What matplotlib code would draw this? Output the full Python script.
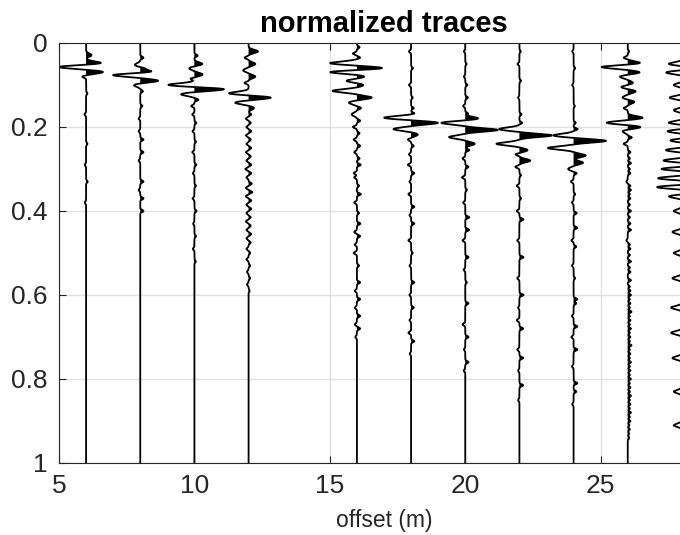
import numpy as np
import matplotlib.pyplot as plt

# trace offsets (m) and time (s) after which each trace is flat
offsets = [6, 8, 10, 12, 16, 18, 20, 22, 24, 26, 28]
end_times = [0.40, 0.41, 0.55, 0.60, 0.71, 0.76, 0.80, 0.88, 0.89, 0.95, 0.96]

# lobes: (time s, normalized amplitude in offset units)
lobes_6 = [(0.029, 0.2), (0.048, 0.6), (0.057, -1.05), (0.069, 0.63), (0.08, -0.15),
           (0.12, 0.05), (0.17, -0.06), (0.24, 0.05), (0.29, -0.05), (0.33, 0.06), (0.38, -0.05)]
lobes_8 = [(0.035, 0.12), (0.052, -0.2), (0.06, 0.15), (0.069, 0.55), (0.076, -1.1), (0.09, 0.67),
           (0.10, -0.25), (0.115, 0.1), (0.15, 0.08), (0.18, -0.06), (0.21, -0.06), (0.23, 0.12),
           (0.26, 0.12), (0.28, -0.06), (0.33, 0.12), (0.35, -0.06), (0.37, 0.12), (0.40, 0.12)]
lobes_10 = [(0.03, 0.12), (0.05, 0.3), (0.06, -0.2), (0.075, 0.3), (0.085, -0.15), (0.10, -1.0),
            (0.11, 1.13), (0.122, -0.5), (0.135, 0.15), (0.15, -0.12), (0.17, -0.08), (0.19, 0.07),
            (0.21, -0.07), (0.235, 0.06), (0.26, -0.08), (0.29, 0.07), (0.31, -0.06), (0.34, 0.06),
            (0.37, -0.07), (0.40, 0.08), (0.43, -0.05), (0.46, 0.06), (0.49, -0.06), (0.52, 0.05)]
lobes_12 = [(0.02, 0.35), (0.035, -0.15), (0.05, 0.25), (0.065, -0.2), (0.08, 0.25), (0.095, -0.15),
            (0.12, -0.75), (0.13, 0.85), (0.142, -0.5), (0.155, 0.2), (0.17, 0.1), (0.18, -0.1),
            (0.19, 0.08), (0.20, -0.08), (0.21, 0.1), (0.22, -0.1), (0.23, 0.08), (0.24, -0.08),
            (0.25, 0.1), (0.26, -0.1), (0.27, 0.08), (0.28, -0.08), (0.29, 0.1), (0.30, -0.12),
            (0.31, 0.1), (0.32, -0.08), (0.335, 0.12), (0.345, -0.1), (0.355, 0.14), (0.365, -0.1),
            (0.375, 0.1), (0.385, -0.08), (0.395, 0.1), (0.405, -0.08), (0.415, 0.08), (0.425, -0.1),
            (0.435, 0.08), (0.445, -0.08), (0.455, 0.1), (0.465, -0.08), (0.475, 0.08), (0.49, -0.08),
            (0.50, 0.06), (0.515, -0.08), (0.53, 0.06), (0.545, -0.06), (0.56, 0.06), (0.575, -0.06),
            (0.59, 0.04)]
lobes_16 = [(0.01, 0.1), (0.025, -0.15), (0.035, 0.12), (0.048, -1.0), (0.06, 1.0), (0.069, -1.05),
            (0.08, 0.3), (0.09, -0.4), (0.10, 0.25), (0.114, -0.9), (0.13, 0.55), (0.142, -0.3),
            (0.155, 0.15), (0.17, -0.2), (0.185, 0.12), (0.20, -0.15), (0.215, 0.1), (0.23, -0.12),
            (0.245, 0.12), (0.26, -0.1), (0.275, 0.1), (0.29, 0.14), (0.31, -0.12), (0.32, -0.1),
            (0.34, 0.08), (0.36, 0.15), (0.38, -0.1), (0.405, 0.08), (0.43, 0.13), (0.45, -0.1),
            (0.46, 0.12), (0.48, -0.08), (0.50, -0.12), (0.53, 0.08), (0.57, 0.12), (0.59, -0.08),
            (0.61, 0.12), (0.63, -0.08), (0.65, 0.12), (0.67, -0.08), (0.68, 0.12), (0.70, -0.06)]
lobes_18 = [(0.02, -0.08), (0.06, 0.07), (0.10, -0.08), (0.13, 0.06), (0.155, 0.1), (0.168, 0.15),
            (0.178, -1.0), (0.19, 1.0), (0.205, -0.65), (0.218, 0.25), (0.23, -0.12), (0.245, 0.1),
            (0.265, -0.08), (0.29, -0.12), (0.31, 0.12), (0.33, -0.06), (0.36, -0.1), (0.39, 0.12),
            (0.41, -0.06), (0.43, 0.12), (0.47, -0.1), (0.50, 0.06), (0.53, -0.06), (0.57, 0.12),
            (0.60, -0.06), (0.63, 0.1), (0.66, -0.06), (0.69, -0.1), (0.71, 0.12), (0.74, -0.05)]
lobes_20 = [(0.02, -0.05), (0.05, 0.05), (0.08, -0.05), (0.10, 0.08), (0.13, 0.1), (0.15, -0.08),
            (0.168, 0.1), (0.18, 0.5), (0.19, -0.9), (0.207, 1.2), (0.224, -0.6), (0.24, 0.35),
            (0.255, 0.15), (0.275, -0.1), (0.295, 0.12), (0.32, -0.12), (0.35, 0.06), (0.38, -0.08),
            (0.415, 0.15), (0.445, 0.15), (0.47, -0.1), (0.51, 0.12), (0.54, -0.06), (0.57, 0.06),
            (0.62, 0.12), (0.67, -0.1), (0.70, 0.12), (0.73, -0.05), (0.76, 0.12), (0.78, -0.06)]
lobes_22 = [(0.02, 0.05), (0.05, -0.07), (0.09, 0.06), (0.13, -0.05), (0.17, 0.08), (0.19, 0.1),
            (0.205, -0.75), (0.22, 1.2), (0.24, -0.85), (0.255, 0.3), (0.265, -0.15), (0.28, 0.4),
            (0.295, -0.15), (0.315, 0.06), (0.34, -0.1), (0.37, 0.06), (0.40, -0.1), (0.42, 0.15),
            (0.47, -0.08), (0.51, 0.15), (0.56, -0.08), (0.60, 0.15), (0.63, -0.05), (0.66, -0.1),
            (0.68, 0.14), (0.73, -0.08), (0.75, 0.14), (0.78, -0.05), (0.815, 0.14), (0.85, -0.05)]
lobes_24 = [(0.02, -0.05), (0.06, 0.06), (0.10, -0.05), (0.15, 0.05), (0.19, 0.08), (0.205, 0.15),
            (0.22, -0.75), (0.233, 1.2), (0.25, -0.95), (0.268, 0.45), (0.285, 0.35), (0.30, -0.2),
            (0.31, 0.12), (0.33, -0.1), (0.36, 0.06), (0.38, -0.06), (0.405, 0.12), (0.44, 0.14),
            (0.47, -0.08), (0.485, 0.1), (0.53, -0.06), (0.56, 0.06), (0.61, 0.14), (0.62, 0.1),
            (0.65, -0.06), (0.675, 0.14), (0.70, -0.08), (0.73, 0.14), (0.77, -0.06), (0.81, 0.14),
            (0.83, 0.1), (0.86, -0.05)]
lobes_26 = [(0.02, 0.05), (0.035, -0.15), (0.048, 0.5), (0.057, -1.0), (0.07, 0.45), (0.08, -0.3),
            (0.095, 0.2), (0.105, -0.25), (0.115, 0.3), (0.13, -0.2), (0.14, 0.25), (0.155, -0.15),
            (0.178, 0.55), (0.19, -0.8), (0.20, 0.5), (0.21, -0.2), (0.225, 0.15), (0.24, -0.15),
            (0.26, 0.1), (0.275, 0.08), (0.286, 0.12), (0.30, 0.08), (0.31, 0.1), (0.33, -0.05),
            (0.34, 0.1), (0.35, 0.12), (0.36, 0.08), (0.37, 0.1), (0.385, 0.08), (0.40, 0.12),
            (0.415, 0.08), (0.43, 0.1), (0.445, 0.12), (0.47, -0.05), (0.48, 0.08), (0.49, 0.1),
            (0.505, 0.08), (0.52, 0.12), (0.535, 0.08), (0.545, 0.1), (0.565, 0.12), (0.58, 0.08),
            (0.59, 0.1), (0.60, 0.12), (0.61, 0.08), (0.62, 0.1), (0.63, 0.08), (0.64, 0.14),
            (0.65, 0.08), (0.66, 0.1), (0.67, 0.08), (0.68, 0.12), (0.69, 0.08), (0.70, 0.1),
            (0.71, 0.08), (0.72, 0.14), (0.73, 0.08), (0.74, 0.1), (0.75, 0.08), (0.76, 0.12),
            (0.77, 0.08), (0.78, 0.1), (0.79, 0.08), (0.80, 0.12), (0.81, 0.08), (0.82, 0.1),
            (0.83, 0.08), (0.84, 0.12), (0.85, 0.08), (0.86, 0.1), (0.87, 0.08), (0.88, 0.12),
            (0.89, 0.08), (0.90, 0.1), (0.91, 0.06), (0.92, 0.08), (0.93, 0.05), (0.94, 0.06)]
lobes_28 = [(0.05, -0.5), (0.06, 0.5), (0.07, -0.6), (0.085, 0.5), (0.10, -0.3), (0.115, 0.4),
            (0.13, -0.45), (0.145, 0.4), (0.16, -0.3), (0.175, 0.4), (0.19, -0.5), (0.20, 0.5),
            (0.21, -0.55), (0.222, 0.5), (0.232, -0.45), (0.243, 0.6), (0.255, -0.6), (0.267, 0.6),
            (0.28, -0.7), (0.29, 0.6), (0.30, -0.8), (0.31, 0.7), (0.322, -0.9), (0.333, 0.8),
            (0.343, -0.95), (0.355, 0.7), (0.365, -0.5), (0.38, 0.3), (0.40, -0.3), (0.42, 0.25),
            (0.45, -0.35), (0.48, 0.25), (0.50, -0.3), (0.53, 0.3), (0.56, -0.35), (0.60, 0.3),
            (0.63, -0.4), (0.66, 0.3), (0.69, -0.4), (0.72, 0.3), (0.75, -0.35), (0.79, 0.3),
            (0.83, -0.3), (0.87, 0.25), (0.91, -0.3), (0.94, 0.2)]

all_lobes = [lobes_6, lobes_8, lobes_10, lobes_12, lobes_16, lobes_18,
             lobes_20, lobes_22, lobes_24, lobes_26, lobes_28]

time = np.arange(0, 1.0005, 0.0005)
axcol = '#262626'

plt.rcParams['font.family'] = ['Liberation Sans', 'DejaVu Sans']
fig = plt.figure(figsize=(6.8, 5.35), dpi=100)
ax = fig.add_axes([59/680, 1 - 463/535, (709 - 59)/680, 420/535])

for off, lobes, t_end in zip(offsets, all_lobes, end_times):
    tr = np.zeros_like(time)
    for t0, a in lobes:
        # small noise lobes are narrower than the main arrivals
        w = 0.0055 if abs(a) >= 0.2 else 0.0035
        tr += a*np.exp(-((time - t0)/w)**2)
    tr[time > t_end] = 0
    ax.fill_betweenx(time, off, off + tr, where=tr > 0, color='k', lw=0, interpolate=True)
    ax.plot(off + tr, time, color='k', lw=1.3)

ax.set_xlim(5, 29)
ax.set_ylim(1, 0)
ax.set_xticks([5, 10, 15, 20, 25])
ax.set_yticks([0, 0.2, 0.4, 0.6, 0.8, 1])
ax.set_yticklabels(['0', '0.2', '0.4', '0.6', '0.8', '1'])
ax.grid(True, color='#e0e0e0', lw=1)
ax.set_axisbelow(True)
ax.tick_params(direction='in', length=5, labelsize=19, colors=axcol, top=True, right=True, pad=8)
for s in ax.spines.values():
    s.set_color(axcol)
ax.set_title('normalized traces', fontsize=21, fontweight='bold', pad=8)
ax.set_xlabel('offset (m)', fontsize=16.5, color=axcol, labelpad=8)

fig.savefig('out.png', dpi=100)
